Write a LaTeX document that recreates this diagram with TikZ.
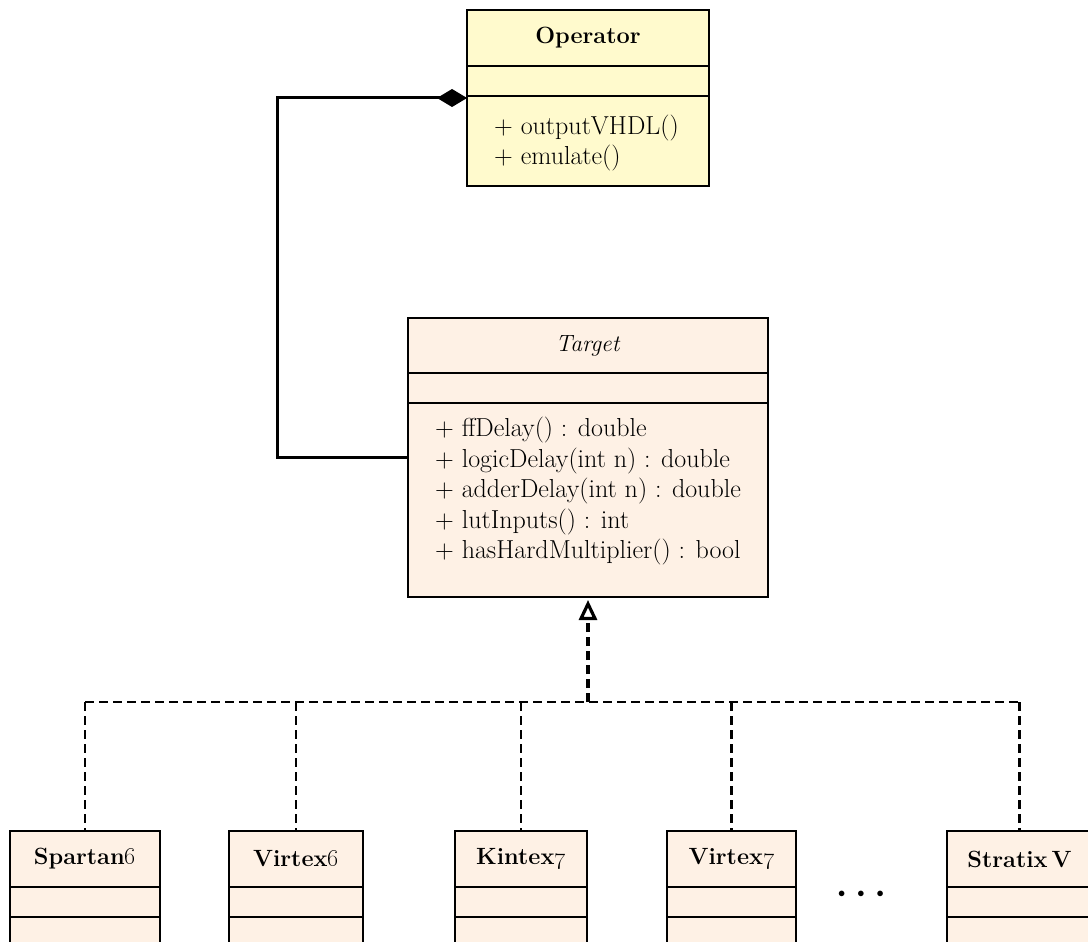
\documentclass[tikz,border=0pt]{standalone}
\usetikzlibrary{arrows.meta,calc}
\begin{document}
\begin{tikzpicture}[x=1pt,y=-1pt]
\tikzset{
  cls/.style={draw, line width=2pt, inner sep=0pt, outer sep=0pt, font=\fontsize{23.5}{30.5}\selectfont},
  opcol/.style={fill={rgb,255:red,255;green,250;blue,205}},
  tgcol/.style={fill={rgb,255:red,254;green,241;blue,229}},
  member/.style={inner sep=0pt, anchor=west, font=\fontsize{26}{30.5}\selectfont},
  comp/.style={line width=3pt, -{Diamond[length=30pt,width=18pt]}},
  real/.style={line width=2.8pt, dash pattern=on 9pt off 5pt},
  realarrow/.style={line width=3.2pt, dash pattern=on 9pt off 5pt, -{Triangle[open,length=20pt,width=18pt]}, shorten >=3pt},
}
\useasboundingbox (0,0) rectangle (1088,942);

% Operator
\node[cls,opcol,minimum width=242pt,minimum height=56pt,anchor=north west] (op) at (467,10) {\textbf{Operator}};
\node[cls,opcol,minimum width=242pt,minimum height=30pt,anchor=north] (opa) at (op.south) {};
\node[cls,opcol,minimum width=242pt,minimum height=90pt,anchor=north] (opm) at (opa.south) {};
\node[member] (op1) at (494,128) {+ outputVHDL()};
\node[member] (op2) at (494,158) {+ emulate()};

% Target
\node[cls,tgcol,minimum width=360pt,minimum height=55pt,anchor=north west] (tg) at (408,318) {\textit{Target}};
\node[cls,tgcol,minimum width=360pt,minimum height=30pt,anchor=north] (tga) at (tg.south) {};
\node[cls,tgcol,minimum width=360pt,minimum height=194pt,anchor=north] (tgm) at (tga.south) {};
\node[member] (tm1) at (435,430) {+ ffDelay() : double};
\node[member] (tm2) at (435,461) {+ logicDelay(int n) : double};
\node[member] (tm3) at (435,491) {+ adderDelay(int n) : double};
\node[member] (tm4) at (435,522) {+ lutInputs() : int};
\node[member] (tm5) at (435,552) {+ hasHardMultiplier() : bool};

% Children
\node[cls,tgcol,minimum width=150pt,minimum height=56pt,anchor=north west] (sp) at (10,831) {\textbf{Spartan\oldstylenums{6}}};
\node[cls,tgcol,minimum width=150pt,minimum height=30pt,anchor=north] (spa) at (sp.south) {};
\node[cls,tgcol,minimum width=150pt,minimum height=60pt,anchor=north] (spm) at (spa.south) {};

\node[cls,tgcol,minimum width=134pt,minimum height=56pt,anchor=north west] (v6) at (229,831) {\textbf{Virtex\oldstylenums{6}}};
\node[cls,tgcol,minimum width=134pt,minimum height=30pt,anchor=north] (v6a) at (v6.south) {};
\node[cls,tgcol,minimum width=134pt,minimum height=60pt,anchor=north] (v6m) at (v6a.south) {};

\node[cls,tgcol,minimum width=132pt,minimum height=56pt,anchor=north west] (k7) at (455,831) {\textbf{Kintex\oldstylenums{7}}};
\node[cls,tgcol,minimum width=132pt,minimum height=30pt,anchor=north] (k7a) at (k7.south) {};
\node[cls,tgcol,minimum width=132pt,minimum height=60pt,anchor=north] (k7m) at (k7a.south) {};

\node[cls,tgcol,minimum width=129pt,minimum height=56pt,anchor=north west] (v7) at (667,831) {\textbf{Virtex\oldstylenums{7}}};
\node[cls,tgcol,minimum width=129pt,minimum height=30pt,anchor=north] (v7a) at (v7.south) {};
\node[cls,tgcol,minimum width=129pt,minimum height=60pt,anchor=north] (v7m) at (v7a.south) {};

\node[cls,tgcol,minimum width=145pt,minimum height=56pt,anchor=north west] (sv) at (947,831) {\textbf{Stratix\,V}};
\node[cls,tgcol,minimum width=145pt,minimum height=30pt,anchor=north] (sva) at (sv.south) {};
\node[cls,tgcol,minimum width=145pt,minimum height=60pt,anchor=north] (svm) at (sva.south) {};

\node[font=\fontsize{15}{15}\selectfont, inner sep=0pt] (dots) at (861,894) {$\bullet$\hspace{12pt}$\bullet$\hspace{12pt}$\bullet$};

% Composition
\draw[comp] ([yshift=-54pt]tgm.north west) -- ++(-131,0) |- ([yshift=-2pt]opa.south west);

% Realization
\coordinate (j) at (588,702);
\draw[real] (sp.north |- j) -- (sv.north |- j);
\draw[real] (sp.north |- j) -- (sp.north);
\draw[real] (v6.north |- j) -- (v6.north);
\draw[real] (k7.north |- j) -- (k7.north);
\draw[real] (v7.north |- j) -- (v7.north);
\draw[real] (sv.north |- j) -- (sv.north);
\draw[realarrow] (j) -- (tgm.south);
\end{tikzpicture}
\end{document}
